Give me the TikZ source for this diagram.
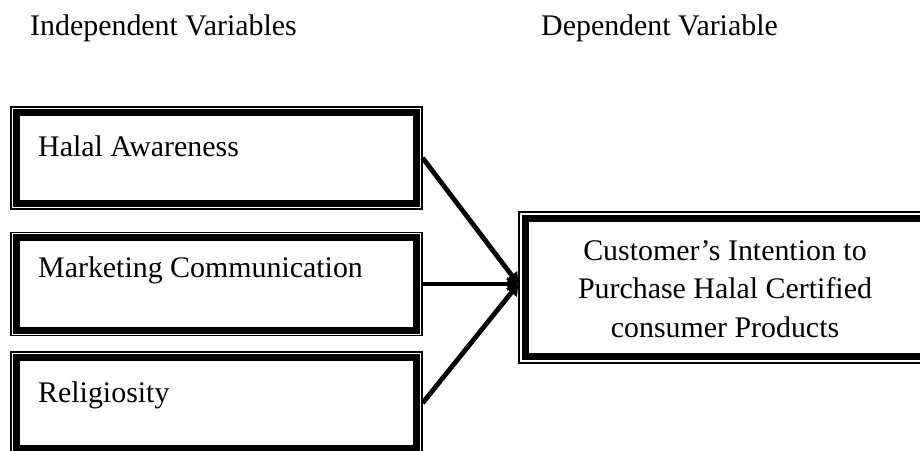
\documentclass[tikz,border=0pt]{standalone}
\usepackage{fontspec}
\setmainfont{Liberation Serif}
\usetikzlibrary{arrows.meta}
\begin{document}
\begin{tikzpicture}[x=1pt,y=-1pt,
  lbl/.style={inner sep=0pt,anchor=base west,font=\fontsize{29.9}{38}\selectfont},
  thinframe/.style={draw=black,line width=1.3pt},
  thickframe/.style={draw=black,line width=7pt},
  conn/.style={draw=black,line width=4.8pt,-{Triangle[length=11pt,width=13pt]}}]
\useasboundingbox (0,0) rectangle (920,450);
% titles
\node[lbl] (tind) at (30,35) {Independent Variables};
\node[lbl] (tdep) at (541,35) {Dependent Variable};
% independent boxes
\node[thinframe,minimum width=411pt,minimum height=102pt,inner sep=0pt] (b1) at (216.5,158) {};
\node[thinframe,minimum width=411pt,minimum height=103pt,inner sep=0pt] (b2) at (216.5,284) {};
\node[thinframe,minimum width=411pt,minimum height=102pt,inner sep=0pt] (b3) at (216.5,403) {};
\foreach \b in {b1,b2,b3}{
  \draw[thickframe] ([xshift=6pt,yshift=-6pt]\b.north west) rectangle ([xshift=-6pt,yshift=6pt]\b.south east);
}
\node[lbl] (l1) at (38,156) {Halal Awareness};
\node[lbl] (l2) at (38,277) {Marketing Communication};
\node[lbl] (l3) at (38,402) {Religiosity};
% dependent box
\node[thinframe,minimum width=412pt,minimum height=151pt,inner sep=0pt] (d) at (725,287.5) {};
\draw[thickframe] ([xshift=7pt,yshift=-7pt]d.north west) rectangle ([xshift=-7pt,yshift=7pt]d.south east);
\node[align=center,inner sep=0pt,font=\fontsize{29.9}{38.5}\selectfont,anchor=base] (dt) at (725,337)
  {Customer’s Intention to\\Purchase Halal Certified\\consumer Products};
% connectors
\coordinate (tip) at (d.west |- b2.east);
\draw[conn] (b1.east) -- (tip);
\draw[conn] (b2.east) -- (tip);
\draw[conn] (b3.east) -- (tip);
\end{tikzpicture}
\end{document}
